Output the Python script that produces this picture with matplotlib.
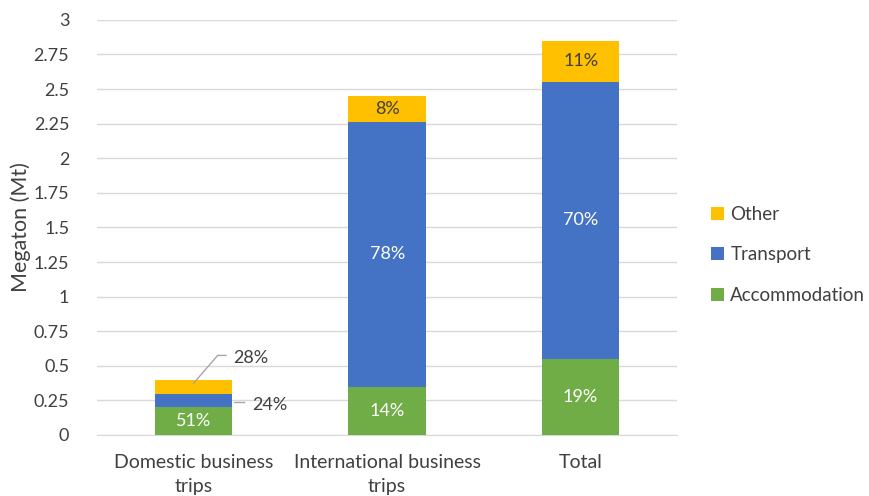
import matplotlib.pyplot as plt
import numpy as np

plt.rcParams['font.family'] = ['Lato', 'DejaVu Sans']

categories = ['Domestic business\ntrips', 'International business\ntrips', 'Total']
accommodation = [0.20, 0.35, 0.55]
transport = [0.095, 1.91, 2.00]
other = [0.10, 0.19, 0.30]
acc_labels = ['51%', '14%', '19%']
tra_labels = ['24%', '78%', '70%']
oth_labels = ['28%', '8%', '11%']

green = '#70ad47'
blue = '#4472c4'
gold = '#ffc000'
txt = '#404040'
lead = '#a6a6a6'

fig = plt.figure(figsize=(8.7, 4.96), dpi=100)
ax = fig.add_axes([0.1115, 0.123, 0.667, 0.837])

x = np.arange(len(categories))
w = 0.4
acc = np.array(accommodation)
tra = np.array(transport)
oth = np.array(other)

ax.bar(x, acc, w, color=green, label='Accommodation', zorder=3)
ax.bar(x, tra, w, bottom=acc, color=blue, label='Transport', zorder=3)
ax.bar(x, oth, w, bottom=acc + tra, color=gold, label='Other', zorder=3)

fs = 13
fs2 = 14
for i in range(len(x)):
    ax.text(x[i], acc[i] / 2, acc_labels[i], ha='center', va='center',
            color='white', fontsize=fs, zorder=4)
    if i == 0:
        # small segments: labels outside with leader lines
        ytop = acc[i] + tra[i] + oth[i]
        ymid = acc[i] + tra[i] / 2
        ax.plot([x[i] + w / 2 + 0.01, x[i] + w / 2 + 0.06], [ymid - 0.01, ymid - 0.01],
                color=lead, lw=1, zorder=4)
        ax.text(x[i] + w / 2 + 0.1, ymid - 0.03, tra_labels[i], ha='left',
                va='center', color=txt, fontsize=fs)
        ax.plot([x[i], x[i] + 0.124, x[i] + 0.166], [ytop - 0.02, ytop + 0.18, ytop + 0.18],
                color=lead, lw=1, zorder=4)
        ax.text(x[i] + 0.205, ytop + 0.16, oth_labels[i], ha='left', va='center',
                color=txt, fontsize=fs)
    else:
        ax.text(x[i], acc[i] + tra[i] / 2, tra_labels[i], ha='center', va='center',
                color='white', fontsize=fs, zorder=4)
        ax.text(x[i], acc[i] + tra[i] + oth[i] / 2, oth_labels[i], ha='center',
                va='center', color=txt, fontsize=fs, zorder=4)

ax.set_xlim(-0.5, 2.5)
ax.set_ylim(0, 3)
ax.set_yticks(np.arange(0, 3.01, 0.25))
ax.set_yticklabels(['0', '0.25', '0.5', '0.75', '1', '1.25', '1.5', '1.75',
                    '2', '2.25', '2.5', '2.75', '3'])
ax.set_xticks(x)
ax.set_xticklabels(categories, fontsize=fs2, color=txt, linespacing=1.5)
ax.tick_params(axis='y', labelsize=fs, labelcolor=txt, length=0, pad=20)
ax.tick_params(axis='x', length=0, pad=14)
ax.grid(axis='y', color='#d9d9d9', lw=1, zorder=0)
for s in ['top', 'right', 'left']:
    ax.spines[s].set_visible(False)
ax.spines['bottom'].set_color('#d9d9d9')
ax.set_ylabel('Megaton (Mt)', fontsize=15.5, color=txt, labelpad=2)

handles, labels = ax.get_legend_handles_labels()
ax.legend(handles[::-1], labels[::-1], loc='center left', bbox_to_anchor=(1.035, 0.434),
          frameon=False, fontsize=13.5, labelcolor=txt, handlelength=0.7,
          handleheight=0.7, handletextpad=0.35, labelspacing=1.25, borderaxespad=0.3)

fig.savefig('out.png', dpi=100)
